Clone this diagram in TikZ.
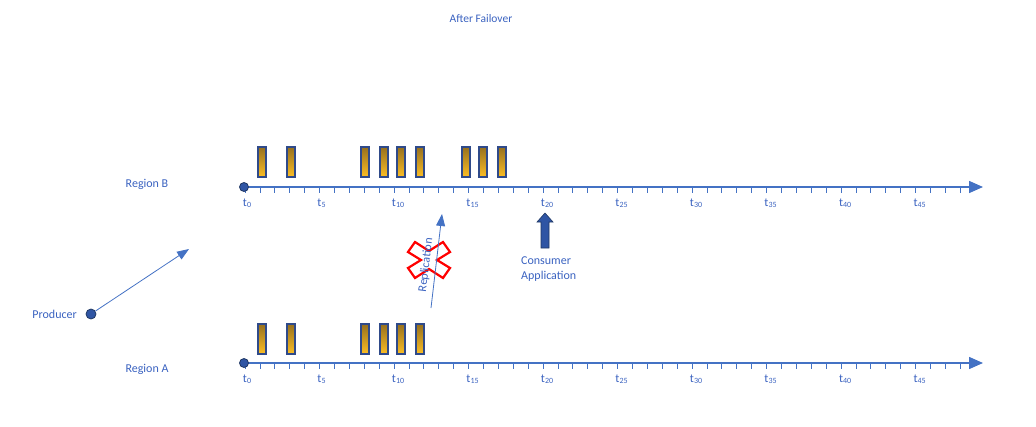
\documentclass[tikz,border=0pt]{standalone}
\usepackage{fontspec}
\setmainfont{Carlito}
\usetikzlibrary{arrows.meta}
\definecolor{txtblue}{RGB}{58,98,192}
\definecolor{lineblue}{RGB}{68,114,196}
\definecolor{dotblue}{RGB}{47,85,164}
\definecolor{dotedge}{RGB}{32,56,100}
\definecolor{barbord}{RGB}{47,74,138}
\definecolor{bartop}{RGB}{150,112,30}
\definecolor{barbot}{RGB}{252,190,36}
\begin{document}
\begin{tikzpicture}[x=1pt,y=-1pt,
  lbl/.style={text=txtblue,font=\fontsize{12}{15}\selectfont,inner sep=0pt},
  tlbl/.style={text=txtblue,font=\fontsize{12}{14}\selectfont,inner sep=0pt},
  axisline/.style={draw=lineblue,line width=1.5pt,-{Triangle[length=14pt,width=12pt]}},
  tickline/.style={draw=lineblue,line width=0.8pt},
  barbox/.style={draw=barbord,line width=2pt,top color=bartop,bottom color=barbot},
  dotnode/.style={circle,fill=dotblue,draw=dotedge,line width=0.8pt,minimum size=9pt,inner sep=0pt},
  thinarrow/.style={draw=lineblue,line width=0.8pt,-{Triangle[length=12pt,width=9pt]}},
]
\useasboundingbox (0,0) rectangle (1036,426);

% title
\node[lbl,font=\fontsize{11.5}{13}\selectfont] (title) at (481,19) {After Failover};

% axes
\foreach \yy/\nm in {187/B,363/A}{
  \coordinate (end\nm) at (983,\yy);
  \draw[axisline] (244,\yy) -- (end\nm);
  \foreach \k in {0,...,48}{
    \draw[tickline] ({245+14.9*\k},\yy) -- ++(0,6);
  }
  \foreach \k in {0,5,...,45}{
    \node[tlbl,anchor=base] (tl\nm\k) at ({245+14.9*\k},\yy+19) {t\rlap{\textsubscript{\k}}};
  }
  \node[dotnode] (dot\nm) at (244,\yy) {};
}

\node[lbl] (regB) at (147,184) {Region B};
\node[lbl] (regA) at (147,369) {Region A};

% bars region B
\foreach \x in {262,291,365,384,401,420,466,483,502}{
  \draw[barbox] (\x-4,147) rectangle (\x+4,177);
}
% bars region A
\foreach \x in {262,291,365,384,401,420}{
  \draw[barbox] (\x-4,324) rectangle (\x+4,354);
}

% producer
\node[dotnode,minimum size=10pt] (prod) at (91,314) {};
\node[lbl,anchor=east] (prodlbl) at (77,314) {Producer};
\coordinate (prodtip) at (189,249);
\draw[thinarrow] (prod) -- (prodtip);

% replication (failed)
\draw[red,line width=2.2pt,line join=miter,shift={(429,260)}]
  (-21,-8) -- (-14,-18) -- (0,-9) -- (14,-18) -- (21,-8) -- (8,0) -- (21,8)
  -- (14,18) -- (0,9) -- (-14,18) -- (-21,8) -- (-8,0) -- cycle;
\coordinate (repS) at (431,308);
\coordinate (repE) at (442,214);
\draw[thinarrow] (repS) -- (repE);
\node[lbl,rotate=83] (replbl) at (426,265) {Replication};

% consumer
\fill[dotblue,draw=dotedge,line width=0.6pt]
  (541,248) -- (549,248) -- (549,222) -- (553,222) -- (545,213) -- (537,222) -- (541,222) -- cycle;
\node[lbl,align=left,anchor=north west] (cons) at (521,257) {Consumer\\Application};
\end{tikzpicture}
\end{document}
